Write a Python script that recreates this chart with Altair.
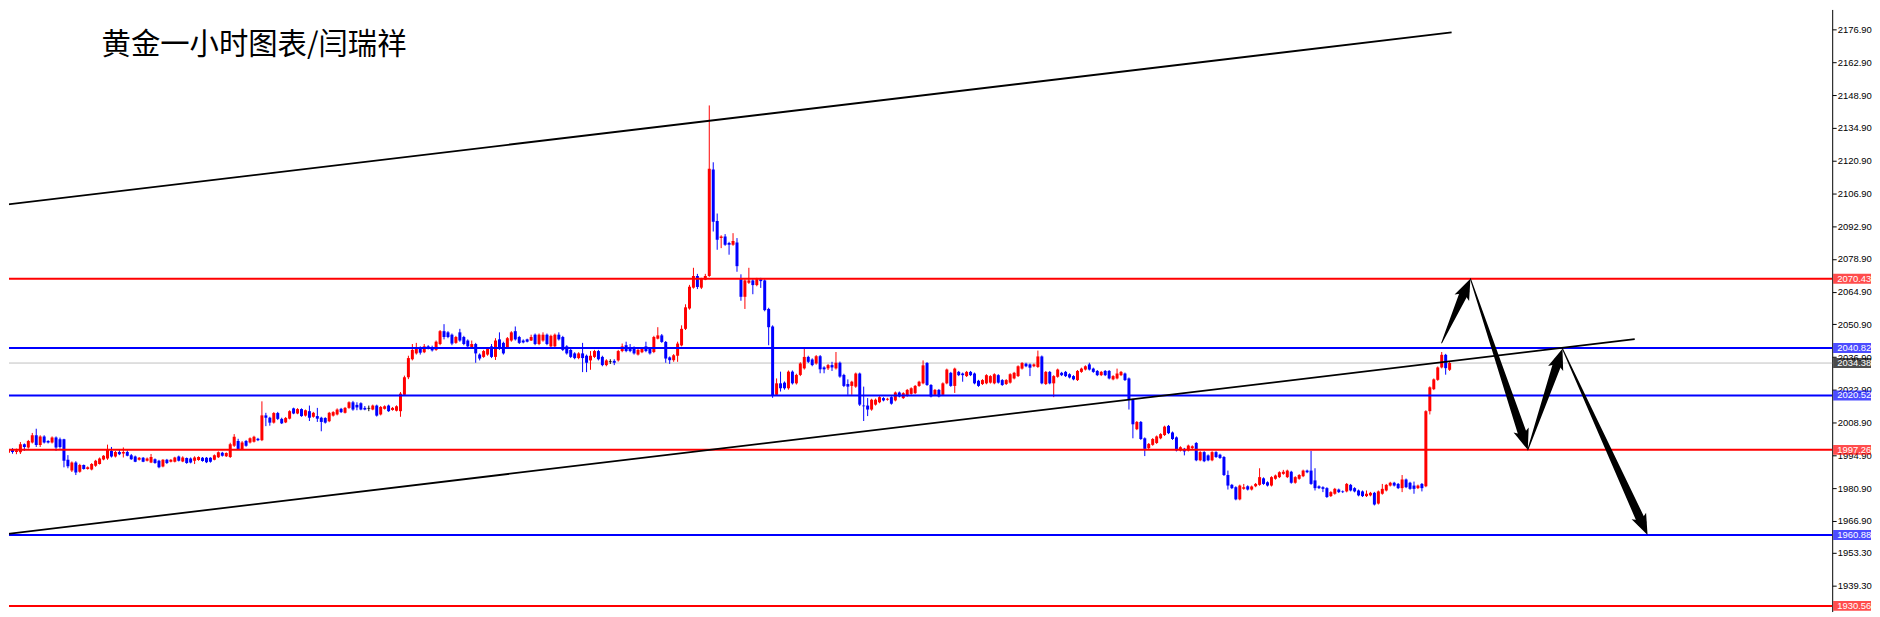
import math
import altair as alt
import pandas as pd

TITLE = "黄金一小时图表/闫瑞祥"

OPEN = [
    1996.0, 1997.5, 1996.3, 1996.2, 1999.7, 1998.3, 2000.4, 2003.5, 1999.3, 2003.0,
    2001.0, 2000.4, 2002.5, 2001.8, 2001.8, 1993.0, 1988.4, 1991.9, 1987.9, 1990.8,
    1989.1, 1988.9, 1990.5, 1991.2, 1993.1, 1993.6, 1996.8, 1994.4, 1996.4, 1995.7,
    1996.4, 1995.0, 1994.4, 1993.0, 1993.9, 1992.6, 1991.9, 1993.3, 1992.6, 1990.2,
    1993.0, 1992.2, 1992.2, 1994.4, 1992.3, 1993.8, 1993.6, 1992.6, 1992.9, 1993.9,
    1993.9, 1993.9, 1993.0, 1994.1, 1996.0, 1994.5, 1994.2, 1999.0, 2001.1, 1997.6,
    2001.1, 2000.4, 2000.7, 2002.0, 2001.4, 2012.0, 2011.0, 2008.9, 2013.0, 2010.5,
    2009.0, 2010.6, 2015.0, 2012.8, 2014.7, 2011.9, 2013.8, 2011.4, 2011.7, 2011.0,
    2010.9, 2009.5, 2011.9, 2012.4, 2014.8, 2013.1, 2015.2, 2017.6, 2016.5, 2017.2,
    2015.2, 2015.0, 2014.5, 2016.2, 2012.4, 2014.8, 2016.2, 2014.3, 2014.0, 2013.8,
    2020.8, 2028.3, 2036.0, 2038.5, 2041.0, 2039.0, 2041.5, 2041.2, 2040.0, 2042.5,
    2048.0, 2047.5, 2046.5, 2043.0, 2047.5, 2045.5, 2044.0, 2041.0, 2042.5, 2038.0,
    2037.0, 2038.0, 2041.5, 2037.0, 2044.5, 2043.0, 2041.0, 2044.0, 2048.0, 2045.5,
    2044.0, 2044.5, 2044.0, 2046.5, 2042.5, 2044.0, 2046.5, 2041.5, 2041.5, 2046.5,
    2045.5, 2041.5, 2040.0, 2038.5, 2036.5, 2038.5, 2037.5, 2035.5, 2037.0, 2039.5,
    2037.0, 2033.5, 2035.0, 2035.3, 2035.5, 2039.5, 2042.0, 2041.0, 2041.0, 2038.0,
    2039.0, 2041.5, 2040.5, 2039.1, 2044.8, 2046.2, 2043.4, 2036.8, 2035.6, 2037.5,
    2041.9, 2049.0, 2057.7, 2066.6, 2071.6, 2066.6, 2070.0, 2071.6, 2117.1, 2095.1,
    2087.8, 2088.5, 2085.7, 2085.0, 2085.9, 2070.2, 2062.7, 2068.7, 2069.7, 2067.7,
    2070.2, 2069.7, 2057.5, 2050.0, 2020.8, 2025.7, 2026.0, 2023.6, 2030.7, 2025.7,
    2029.3, 2032.1, 2037.0, 2035.9, 2034.2, 2037.3, 2032.5, 2032.1, 2033.5, 2032.1,
    2034.5, 2029.3, 2025.4, 2024.6, 2024.3, 2029.9, 2016.2, 2016.2, 2014.5, 2016.6,
    2017.6, 2019.4, 2018.7, 2019.8, 2018.4, 2021.8, 2019.4, 2020.4, 2021.2, 2021.5,
    2024.6, 2025.7, 2034.4, 2025.0, 2020.8, 2022.9, 2020.8, 2025.7, 2030.2, 2024.6,
    2030.6, 2029.9, 2028.8, 2030.6, 2029.9, 2026.8, 2025.4, 2025.7, 2026.0, 2025.7,
    2029.2, 2027.1, 2025.4, 2026.0, 2027.8, 2028.8, 2032.0, 2034.1, 2033.8, 2033.0,
    2032.7, 2037.2, 2025.4, 2030.6, 2025.7, 2028.5, 2030.2, 2030.6, 2029.6, 2028.8,
    2027.1, 2030.6, 2031.6, 2033.8, 2032.0, 2031.0, 2029.2, 2031.0, 2031.0, 2027.4,
    2027.8, 2029.2, 2029.9, 2027.8, 2018.7, 2006.1, 2009.2, 2002.2, 1998.0, 1999.4,
    2000.2, 2002.2, 2003.6, 2007.5, 2004.7, 2002.6, 1997.0, 1997.7, 1997.0, 1998.0,
    2000.2, 1992.8, 1996.3, 1994.9, 1992.8, 1996.3, 1995.2, 1994.2, 1986.5, 1982.3,
    1981.3, 1976.1, 1980.6, 1981.7, 1980.3, 1981.7, 1982.3, 1985.1, 1983.4, 1982.0,
    1984.9, 1985.6, 1987.0, 1985.6, 1987.9, 1983.2, 1984.9, 1986.0, 1988.4, 1988.4,
    1984.2, 1981.7, 1981.3, 1980.9, 1977.5, 1978.5, 1980.3, 1979.5, 1979.5, 1982.3,
    1980.9, 1979.9, 1979.5, 1977.5, 1977.8, 1978.9, 1974.3, 1978.5, 1979.9, 1982.0,
    1983.2, 1982.7, 1980.9, 1984.6, 1983.2, 1982.0, 1980.9, 1982.7, 1981.7, 2013.8,
    2023.2, 2027.2, 2032.5, 2037.9, 2031.5,
]

HIGH = [
    1998.2, 1998.0, 1997.8, 2000.6, 2000.0, 2001.5, 2004.5, 2006.3, 2003.5, 2003.5,
    2001.4, 2003.0, 2003.0, 2002.5, 2002.0, 1995.0, 1992.3, 1992.4, 1991.3, 1991.0,
    1990.2, 1991.6, 1993.0, 1994.0, 1995.0, 1999.5, 1998.5, 1996.8, 1997.5, 1998.3,
    1997.0, 1995.5, 1994.8, 1994.2, 1994.2, 1994.0, 1995.5, 1993.6, 1993.0, 1993.3,
    1993.4, 1993.3, 1994.3, 1994.8, 1994.5, 1994.0, 1994.0, 1994.5, 1994.5, 1994.2,
    1994.2, 1994.1, 1995.3, 1996.6, 1996.4, 1996.2, 2000.3, 2004.0, 2002.0, 2001.0,
    2001.5, 2002.6, 2003.3, 2002.4, 2018.0, 2013.1, 2011.4, 2013.4, 2013.5, 2011.0,
    2011.3, 2014.2, 2015.3, 2015.1, 2015.0, 2014.5, 2016.2, 2013.5, 2015.2, 2011.4,
    2011.2, 2013.5, 2013.8, 2015.0, 2015.2, 2015.6, 2018.0, 2018.2, 2017.6, 2017.6,
    2016.0, 2016.2, 2016.6, 2016.6, 2016.0, 2016.3, 2016.6, 2015.6, 2016.3, 2022.0,
    2029.0, 2037.5, 2042.5, 2043.0, 2041.5, 2042.5, 2042.0, 2041.8, 2044.0, 2048.5,
    2051.0, 2048.0, 2047.0, 2046.0, 2049.0, 2046.0, 2044.5, 2044.0, 2043.0, 2038.5,
    2040.0, 2041.0, 2042.5, 2045.0, 2047.5, 2043.5, 2045.5, 2048.0, 2050.0, 2046.0,
    2044.5, 2044.8, 2046.5, 2047.0, 2047.0, 2047.5, 2047.0, 2046.5, 2047.0, 2047.5,
    2046.0, 2042.0, 2040.5, 2039.0, 2039.0, 2043.0, 2038.0, 2039.5, 2040.0, 2040.0,
    2037.5, 2036.0, 2036.0, 2036.0, 2040.0, 2042.7, 2043.5, 2042.5, 2041.5, 2040.5,
    2041.0, 2043.5, 2041.0, 2046.0, 2049.7, 2046.8, 2043.8, 2037.2, 2038.2, 2043.5,
    2050.5, 2059.5, 2067.8, 2075.1, 2072.5, 2070.8, 2072.5, 2144.5, 2120.2, 2098.3,
    2089.0, 2089.5, 2086.2, 2089.9, 2087.8, 2072.3, 2070.2, 2075.1, 2070.2, 2070.8,
    2070.8, 2070.2, 2058.0, 2050.5, 2027.8, 2030.7, 2026.5, 2031.2, 2031.2, 2029.8,
    2034.7, 2040.5, 2037.5, 2036.4, 2037.8, 2037.8, 2033.0, 2034.0, 2034.9, 2039.1,
    2035.0, 2029.8, 2027.4, 2026.8, 2030.3, 2030.3, 2024.3, 2019.4, 2019.1, 2019.2,
    2020.2, 2019.8, 2019.5, 2020.2, 2022.2, 2022.2, 2021.9, 2023.3, 2024.0, 2025.0,
    2026.8, 2035.5, 2034.8, 2025.4, 2023.3, 2023.3, 2026.1, 2032.0, 2030.6, 2032.4,
    2031.0, 2030.3, 2031.0, 2031.0, 2030.3, 2027.2, 2027.5, 2029.6, 2029.2, 2030.0,
    2029.6, 2027.5, 2027.5, 2030.0, 2030.6, 2033.4, 2034.8, 2034.5, 2034.2, 2034.2,
    2039.7, 2037.6, 2031.0, 2031.0, 2029.2, 2032.0, 2030.6, 2031.0, 2030.0, 2029.2,
    2031.4, 2032.4, 2033.4, 2034.5, 2032.4, 2031.4, 2031.0, 2031.4, 2031.4, 2029.2,
    2032.0, 2031.0, 2030.3, 2028.2, 2019.1, 2009.6, 2009.6, 2002.6, 2000.2, 2002.3,
    2003.4, 2004.4, 2007.6, 2007.9, 2005.1, 2003.0, 1998.8, 1998.1, 1999.5, 1999.2,
    2000.6, 1996.7, 1996.7, 1995.3, 1996.7, 1996.7, 1995.6, 1994.6, 1988.4, 1982.7,
    1981.7, 1982.4, 1982.7, 1982.1, 1982.0, 1983.1, 1989.4, 1985.5, 1983.8, 1986.0,
    1986.7, 1988.1, 1988.7, 1988.8, 1988.3, 1986.0, 1986.9, 1988.8, 1988.8, 1996.8,
    1989.4, 1982.1, 1981.7, 1981.3, 1979.6, 1981.0, 1980.7, 1979.9, 1983.1, 1982.7,
    1981.3, 1980.3, 1979.9, 1979.9, 1979.3, 1979.3, 1979.9, 1982.7, 1982.7, 1983.6,
    1983.6, 1983.1, 1986.5, 1985.0, 1983.6, 1983.7, 1982.4, 1983.1, 2014.2, 2024.4,
    2027.8, 2032.9, 2039.1, 2038.3, 2035.0,
]

LOW = [
    1995.5, 1995.6, 1995.4, 1995.5, 1996.8, 1997.8, 2000.0, 1998.5, 1998.5, 2000.0,
    2000.0, 2000.0, 1996.8, 1997.8, 1989.8, 1989.4, 1987.8, 1986.5, 1987.5, 1988.8,
    1988.8, 1988.5, 1990.0, 1991.0, 1992.8, 1993.0, 1994.0, 1994.0, 1995.0, 1994.0,
    1994.5, 1993.0, 1992.0, 1992.7, 1992.0, 1992.3, 1991.6, 1991.3, 1989.4, 1989.8,
    1991.2, 1991.9, 1991.9, 1992.3, 1992.0, 1991.3, 1991.5, 1991.2, 1992.6, 1992.2,
    1991.6, 1991.8, 1992.8, 1993.8, 1994.4, 1994.2, 1993.8, 1998.5, 1997.3, 1997.2,
    1998.6, 2000.0, 2000.4, 2001.0, 2001.0, 2007.4, 2007.6, 2008.5, 2010.0, 2008.3,
    2008.7, 2010.3, 2012.5, 2012.5, 2011.4, 2011.5, 2009.6, 2011.0, 2009.2, 2005.2,
    2008.5, 2009.1, 2011.5, 2012.0, 2013.0, 2012.8, 2014.8, 2014.0, 2014.2, 2014.2,
    2014.2, 2013.8, 2014.2, 2011.5, 2012.0, 2014.5, 2013.5, 2014.0, 2013.7, 2011.4,
    2020.3, 2027.5, 2035.5, 2038.0, 2038.0, 2038.6, 2040.2, 2039.3, 2039.6, 2042.0,
    2044.5, 2045.0, 2042.0, 2042.6, 2043.5, 2042.0, 2041.0, 2040.5, 2034.5, 2035.5,
    2036.6, 2037.5, 2036.5, 2035.7, 2040.0, 2038.0, 2040.5, 2043.5, 2044.0, 2042.5,
    2042.8, 2043.2, 2043.8, 2042.0, 2042.0, 2043.5, 2042.0, 2041.0, 2041.0, 2044.0,
    2039.5, 2038.0, 2036.5, 2036.0, 2036.0, 2030.5, 2030.5, 2031.5, 2036.5, 2035.5,
    2033.0, 2033.0, 2034.0, 2033.5, 2035.0, 2039.0, 2039.0, 2039.0, 2038.0, 2037.6,
    2038.6, 2039.0, 2038.0, 2038.6, 2044.5, 2043.0, 2034.5, 2034.0, 2034.9, 2034.9,
    2041.5, 2048.5, 2057.2, 2066.2, 2066.0, 2066.0, 2069.8, 2071.2, 2090.6, 2082.8,
    2083.5, 2084.5, 2080.7, 2084.5, 2073.4, 2061.0, 2057.5, 2068.2, 2063.8, 2067.2,
    2066.5, 2056.5, 2042.0, 2019.5, 2020.5, 2022.2, 2023.0, 2023.0, 2025.2, 2025.2,
    2028.8, 2031.6, 2034.4, 2033.0, 2033.7, 2030.0, 2030.0, 2031.4, 2031.0, 2031.6,
    2028.1, 2024.1, 2020.8, 2020.8, 2023.8, 2016.0, 2009.6, 2011.7, 2014.0, 2016.2,
    2017.2, 2018.0, 2018.3, 2016.6, 2018.0, 2019.7, 2019.0, 2020.0, 2020.8, 2021.1,
    2024.2, 2025.3, 2024.6, 2019.7, 2020.4, 2019.7, 2020.4, 2025.3, 2024.2, 2021.6,
    2028.8, 2026.4, 2028.4, 2028.8, 2025.3, 2024.2, 2025.0, 2025.3, 2025.6, 2025.3,
    2025.6, 2024.6, 2025.0, 2025.6, 2027.4, 2028.4, 2031.6, 2032.6, 2028.8, 2032.6,
    2032.3, 2025.3, 2025.0, 2025.3, 2019.8, 2028.1, 2028.8, 2028.4, 2027.8, 2027.0,
    2026.7, 2030.2, 2031.2, 2031.2, 2030.2, 2028.8, 2028.8, 2028.8, 2027.4, 2027.0,
    2027.4, 2028.8, 2026.7, 2014.5, 2002.2, 2005.7, 2001.5, 1994.6, 1997.6, 1999.0,
    1999.8, 2001.8, 2003.2, 2004.0, 2001.5, 1996.6, 1996.6, 1994.9, 1996.6, 1997.6,
    1992.4, 1992.4, 1992.0, 1992.4, 1992.4, 1993.8, 1993.4, 1986.1, 1980.3, 1980.5,
    1975.7, 1975.7, 1980.2, 1979.9, 1979.9, 1981.3, 1981.9, 1982.3, 1981.6, 1981.6,
    1984.5, 1985.2, 1986.6, 1985.2, 1982.8, 1982.8, 1984.5, 1985.6, 1987.3, 1982.3,
    1979.9, 1980.5, 1979.2, 1976.7, 1977.1, 1978.1, 1978.8, 1978.8, 1979.1, 1979.5,
    1979.1, 1977.4, 1977.1, 1977.1, 1977.4, 1973.5, 1973.9, 1978.1, 1979.5, 1981.6,
    1981.6, 1980.5, 1979.2, 1980.9, 1980.2, 1978.5, 1980.5, 1979.5, 1981.3, 2012.4,
    2022.8, 2026.8, 2032.1, 2029.4, 2031.0,
]

CLOSE = [
    1997.5, 1996.3, 1997.0, 1999.7, 1998.5, 2001.0, 2003.5, 1999.3, 2003.0, 2000.4,
    2000.4, 2002.5, 1998.3, 1998.5, 1992.6, 1990.3, 1991.9, 1987.6, 1990.8, 1989.1,
    1989.8, 1991.2, 1992.6, 1993.6, 1994.7, 1997.5, 1994.4, 1996.4, 1995.4, 1996.4,
    1994.7, 1993.3, 1992.2, 1993.9, 1992.2, 1993.6, 1994.2, 1991.6, 1989.8, 1993.0,
    1991.6, 1993.0, 1994.0, 1992.6, 1994.0, 1991.6, 1991.9, 1994.0, 1994.2, 1992.5,
    1992.0, 1992.2, 1995.0, 1996.2, 1994.7, 1995.9, 1999.7, 2002.9, 1997.6, 2000.4,
    1999.0, 2002.2, 2002.9, 2001.4, 2012.0, 2011.0, 2008.9, 2013.0, 2010.5, 2008.6,
    2010.9, 2013.8, 2012.8, 2014.7, 2011.7, 2014.2, 2011.0, 2013.1, 2010.6, 2009.2,
    2008.9, 2013.1, 2013.4, 2014.5, 2013.4, 2015.2, 2017.6, 2014.5, 2015.4, 2014.5,
    2014.5, 2015.0, 2016.2, 2011.9, 2015.6, 2015.9, 2013.8, 2015.2, 2015.9, 2021.3,
    2028.3, 2036.5, 2040.0, 2041.0, 2038.8, 2041.5, 2040.8, 2039.8, 2043.5, 2048.0,
    2045.5, 2045.5, 2042.7, 2045.5, 2044.0, 2042.5, 2041.5, 2042.5, 2038.5, 2036.3,
    2039.5, 2040.5, 2037.0, 2044.0, 2040.5, 2038.5, 2045.0, 2047.5, 2044.5, 2043.0,
    2043.2, 2043.5, 2045.5, 2042.5, 2046.5, 2046.5, 2042.5, 2046.0, 2046.5, 2044.5,
    2040.0, 2038.5, 2037.0, 2036.5, 2038.5, 2036.5, 2034.5, 2037.5, 2039.5, 2036.0,
    2033.5, 2035.5, 2035.0, 2034.5, 2039.5, 2041.5, 2039.5, 2039.5, 2038.5, 2040.0,
    2040.5, 2039.5, 2038.5, 2045.5, 2046.2, 2043.4, 2036.3, 2035.6, 2037.7, 2042.7,
    2049.0, 2058.2, 2067.0, 2071.6, 2066.9, 2070.3, 2071.6, 2117.4, 2094.8, 2087.1,
    2088.5, 2085.0, 2085.0, 2086.5, 2075.8, 2062.7, 2069.7, 2069.7, 2067.7, 2070.2,
    2069.4, 2057.0, 2049.7, 2020.5, 2025.7, 2023.6, 2023.6, 2030.7, 2025.7, 2029.3,
    2034.2, 2037.0, 2034.9, 2033.5, 2037.3, 2031.7, 2031.7, 2033.5, 2032.5, 2034.5,
    2028.6, 2024.6, 2024.3, 2026.4, 2029.9, 2016.6, 2015.9, 2014.5, 2018.7, 2018.7,
    2019.8, 2018.4, 2019.1, 2017.0, 2021.8, 2020.1, 2021.5, 2022.9, 2023.6, 2024.6,
    2026.4, 2033.4, 2025.0, 2020.1, 2022.9, 2020.1, 2025.7, 2031.6, 2024.6, 2032.0,
    2029.2, 2029.2, 2030.6, 2029.2, 2025.7, 2024.6, 2027.1, 2029.2, 2028.8, 2029.6,
    2026.0, 2025.0, 2027.1, 2029.6, 2030.2, 2033.0, 2034.4, 2033.0, 2032.4, 2033.8,
    2037.2, 2025.7, 2030.6, 2025.7, 2028.8, 2031.6, 2029.2, 2028.8, 2028.2, 2027.4,
    2031.0, 2032.0, 2033.0, 2031.6, 2030.6, 2029.2, 2030.6, 2029.2, 2027.8, 2028.8,
    2029.9, 2030.6, 2027.1, 2018.7, 2008.2, 2009.2, 2001.9, 1997.7, 1999.8, 2001.9,
    2003.0, 2004.0, 2007.2, 2004.4, 2001.9, 1997.0, 1998.4, 1996.6, 1999.1, 1998.8,
    1992.8, 1996.3, 1992.4, 1992.8, 1996.3, 1994.2, 1993.8, 1986.5, 1982.0, 1980.9,
    1976.1, 1982.0, 1981.3, 1980.3, 1981.6, 1982.7, 1985.6, 1982.7, 1982.0, 1985.6,
    1986.3, 1987.7, 1987.9, 1988.4, 1983.2, 1985.6, 1986.5, 1988.4, 1987.7, 1982.7,
    1980.9, 1980.9, 1980.6, 1977.1, 1979.2, 1980.6, 1979.2, 1979.2, 1982.7, 1979.9,
    1979.5, 1977.8, 1977.5, 1978.5, 1978.9, 1973.9, 1979.5, 1980.6, 1982.3, 1983.2,
    1982.0, 1980.9, 1984.6, 1981.3, 1980.6, 1980.6, 1982.0, 1980.9, 2013.8, 2024.0,
    2027.4, 2032.5, 2037.9, 2032.2, 2034.4,
]

AXIS_TICKS = [2176.90, 2162.90, 2148.90, 2134.90, 2120.90, 2106.90, 2092.90,
              2078.90, 2064.90, 2050.90, 2036.90, 2022.90, 2008.90, 1994.90,
              1980.90, 1966.90, 1953.30, 1939.30]

LEVEL_PRICES = [2070.43, 2040.82, 2020.52, 1997.26, 1960.88, 1930.56]
LEVEL_COLORS = ["#ff0000", "#0000ff", "#0000ff", "#ff0000", "#0000ff", "#ff0000"]
LAST_PRICE = 2034.38

TREND_UPPER_T = [-0.5, 364.5]
TREND_UPPER_P = [2102.15, 2175.75]
TREND_LOWER_T = [-0.5, 410.75]
TREND_LOWER_P = [1961.3, 2044.6]

ARROW_T = [362.0, 369.25, 383.75, 392.5, 414.0]
ARROW_P = [2043.0, 2070.43, 1997.26, 2040.5, 1960.88]

# ---------------- layout / style ----------------
W, H = 1832, 605
X_DOM = [1.375, 459.375]
Y_DOM = [1928.14, 2185.54]
UP, DOWN, FLAT = "#ff0000", "#0000ff", "#000000"
AX_FONT = "Liberation Sans"
AX_SIZE = 9.5

xs = alt.Scale(domain=X_DOM, nice=False, zero=False)
ys = alt.Scale(domain=Y_DOM, nice=False, zero=False)
yaxis = alt.Axis(orient="right", values=AXIS_TICKS, format=".2f", title=None,
                 grid=False, labelFont=AX_FONT, labelFontSize=AX_SIZE,
                 labelColor="#000000", labelPadding=1, labelOverlap=False,
                 labelFlush=False, tickSize=4, tickColor="#000000", tickWidth=1,
                 domainColor="#000000", domainWidth=1)


def X(f="t"):
    return alt.X(f"{f}:Q", scale=xs, axis=None)


def Y(f):
    return alt.Y(f"{f}:Q", scale=ys, axis=yaxis)


# candles
df = pd.DataFrame({"t": list(range(len(OPEN))), "o": OPEN, "h": HIGH,
                   "l": LOW, "c": CLOSE})
df["col"] = [UP if c > o else (DOWN if c < o else FLAT)
             for o, c in zip(df["o"], df["c"])]
col_enc = alt.Color("col:N", scale=None)

wicks = alt.Chart(df).mark_rule(strokeWidth=1, clip=True).encode(
    x=X(), y=Y("l"), y2="h", color=col_enc)
bodies = alt.Chart(df).mark_bar(width=3, clip=True).encode(
    x=X(), y=Y("o"), y2="c", color=col_enc)
dojis = alt.Chart(df).transform_filter("datum.o == datum.c").mark_tick(
    orient="horizontal", size=3, thickness=1, clip=True).encode(
    x=X(), y=Y("c"), color=col_enc)

# horizontal levels
lev_df = pd.DataFrame({"p": LEVEL_PRICES, "col": LEVEL_COLORS})
levels = alt.Chart(lev_df).mark_rule(strokeWidth=2).encode(
    y=Y("p"), color=col_enc)
last_df = pd.DataFrame({"p": [LAST_PRICE]})
last_line = alt.Chart(last_df).mark_rule(strokeWidth=1, color="#c0c0c0").encode(
    y=Y("p"))

# trend lines
tr_rows = []
for i, (ts, ps) in enumerate([(TREND_UPPER_T, TREND_UPPER_P),
                              (TREND_LOWER_T, TREND_LOWER_P)]):
    for t, p in zip(ts, ps):
        tr_rows.append({"id": i, "t": t, "p": p})
trends = alt.Chart(pd.DataFrame(tr_rows)).mark_line(
    color="#000000", strokeWidth=1.8, clip=True).encode(
    x=X(), y=Y("p"), detail="id:N")

# arrows (tapered shaft + notched head)
KX = W / (X_DOM[1] - X_DOM[0])
KY = H / (Y_DOM[1] - Y_DOM[0])
HEAD_BACK = 14.0
trail_rows, head_rows = [], []
for i in range(len(ARROW_T) - 1):
    t1, p1, t2, p2 = ARROW_T[i], ARROW_P[i], ARROW_T[i + 1], ARROW_P[i + 1]
    dx = (t2 - t1) * KX
    dy = -(p2 - p1) * KY
    L = math.hypot(dx, dy)
    ux, uy = dx / L, dy / L
    bt = t2 - ux * HEAD_BACK / KX
    bp = p2 + uy * HEAD_BACK / KY
    trail_rows.append({"a": i, "s": 0, "t": t1, "p": p1, "w": 1.0})
    trail_rows.append({"a": i, "s": 1, "t": bt, "p": bp, "w": 9.0})
    ang = math.degrees(math.atan2(dx, -dy)) % 360
    head_rows.append({"t": t2, "p": p2, "ang": ang})

trails = alt.Chart(pd.DataFrame(trail_rows)).mark_trail(color="#000000").encode(
    x=X(), y=Y("p"), size=alt.Size("w:Q", scale=None, legend=None),
    detail="a:N", order="s:Q")
HEAD_PATH = "M0,0 L0.8,2.1 L0,1.6 L-0.8,2.1 Z"
heads = alt.Chart(pd.DataFrame(head_rows)).mark_point(
    shape=HEAD_PATH, size=400, filled=True, color="#000000", opacity=1,
    strokeWidth=0).encode(x=X(), y=Y("p"), angle=alt.Angle("ang:Q", scale=None))

# price boxes on the axis
box_prices = LEVEL_PRICES + [LAST_PRICE]
box_cols = LEVEL_COLORS + ["#000000"]
box_df = pd.DataFrame({"p": box_prices, "col": box_cols,
                       "lab": [f"{p:.2f}" for p in box_prices]})
boxes = alt.Chart(box_df).mark_tick(orient="horizontal", size=38, thickness=10).encode(
    x=alt.value(W + 20), y=Y("p"), color=col_enc)
box_text = alt.Chart(box_df).mark_text(
    align="left", baseline="middle", font=AX_FONT, fontSize=AX_SIZE,
    color="#ffffff").encode(x=alt.value(W + 5), y=Y("p"), text="lab:N")

# title
title = alt.Chart(pd.DataFrame({"s": [TITLE]})).mark_text(
    align="left", baseline="alphabetic", font="Noto Sans CJK SC",
    fontSize=29.5, color="#000000").encode(
    x=alt.value(93), y=alt.value(44.5), text="s:N")

chart = alt.layer(
    last_line, wicks, bodies, dojis, levels, trends, trails, heads,
    boxes, box_text, title
).properties(width=W, height=H, padding=0, background="#ffffff"
).configure_view(stroke=None)

chart.save("out.html", embed_options={"renderer": "svg", "actions": False})
